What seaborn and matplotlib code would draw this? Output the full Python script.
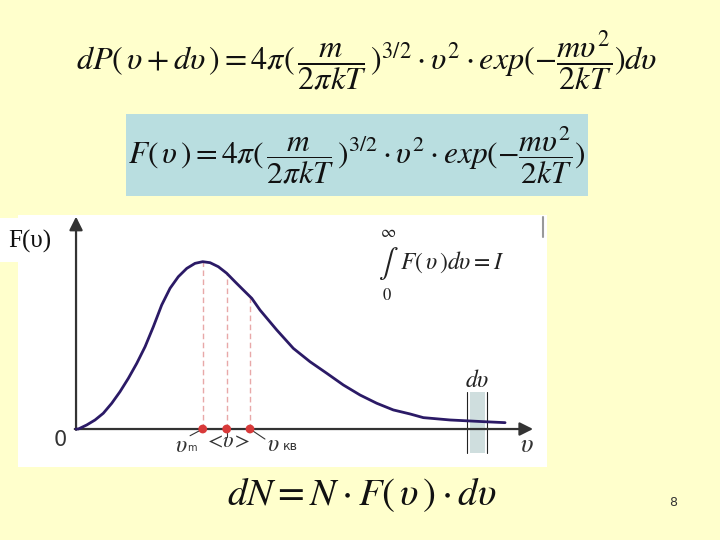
import matplotlib
matplotlib.use('Agg')
import matplotlib.pyplot as plt
import seaborn as sns
import pandas as pd
from matplotlib.patches import Rectangle

# ---- data (speed in units of v_m, density normalised to peak) ----
speed = [0.0, 0.018, 0.084, 0.150, 0.215, 0.282, 0.347, 0.413, 0.479, 0.545, 0.610,
         0.676, 0.742, 0.807, 0.874, 0.939, 1.000, 1.058, 1.123, 1.189, 1.255, 1.320,
         1.387, 1.452, 1.584, 1.715, 1.847, 1.979, 2.110, 2.242, 2.373, 2.504, 2.636,
         2.741, 2.952, 3.215, 3.386]
density = [0.0, 0.0, 0.024, 0.054, 0.094, 0.154, 0.223, 0.303, 0.392, 0.492, 0.611,
           0.741, 0.841, 0.910, 0.960, 0.990, 1.000, 0.994, 0.970, 0.931, 0.880, 0.831,
           0.781, 0.711, 0.592, 0.482, 0.402, 0.333, 0.263, 0.203, 0.154, 0.114, 0.090,
           0.068, 0.054, 0.044, 0.038]
marker_speed = [1.000, 1.189, 1.373]
marker_density = [1.000, 0.931, 0.790]
dv_band = [3.110, 3.228]

sns.set_style('white')
plt.rcParams['mathtext.fontset'] = 'stix'
plt.rcParams['font.family'] = ['DejaVu Sans']

W, H = 720, 540
BG = '#FFFFCC'
fig = plt.figure(figsize=(7.2, 5.4), dpi=100, facecolor=BG)


def fx(px):
    return px / W


def fy(py):
    return 1 - py / H


# blue formula box
fig.patches.append(Rectangle((fx(126), fy(196)), (588 - 126) / W, (196 - 114) / H,
                             transform=fig.transFigure, facecolor='#B9DEE0',
                             edgecolor='none', zorder=0))

# chart axes (white panel)
ax = fig.add_axes([fx(18), fy(467), (547 - 18) / W, (467 - 215) / H])
ax.set_facecolor('white')
ax.set_xlim(-0.458, 3.717)
ax.set_ylim(-0.227, 1.279)
for s in ax.spines.values():
    s.set_visible(False)
ax.set_xticks([])
ax.set_yticks([])

df = pd.DataFrame({'v': speed, 'F': density})

# dv band
ax.axvspan(dv_band[0], dv_band[1], ymin=(-0.146 + 0.227) / 1.506, ymax=(0.223 + 0.227) / 1.506,
           color='#CFDEDE', lw=0, zorder=1)
for xv in [3.087, 3.245]:
    ax.plot([xv, xv], [-0.146, 0.223], color='#222222', lw=0.8, zorder=2)

# dashed drop lines
for v, f in zip(marker_speed, marker_density):
    ax.plot([v, v], [0, f], color='#E8A8A8', lw=1.0, ls=(0, (4, 2.5)), zorder=2)

# axes with arrows
ax.annotate('', xy=(3.607, 0), xytext=(-0.01, 0),
            arrowprops=dict(arrowstyle='-|>', mutation_scale=20, lw=1.6,
                            color='#333333', shrinkA=0, shrinkB=0), zorder=3)
ax.annotate('', xy=(0, 1.269), xytext=(0, -0.005),
            arrowprops=dict(arrowstyle='-|>', mutation_scale=20, lw=1.6,
                            color='#333333', shrinkA=0, shrinkB=0), zorder=3)

# curve
sns.lineplot(data=df, x='v', y='F', ax=ax, color='#2B1A66', lw=2.0, zorder=4,
             sort=False, solid_joinstyle='round', solid_capstyle='round')
ax.set_xlabel('')
ax.set_ylabel('')

# marker dots
sns.scatterplot(x=marker_speed, y=[0, 0, 0], ax=ax, s=40, color='#D83A3A', zorder=5,
                edgecolor='none')
ax.set_xlabel('')
ax.set_ylabel('')

# leader lines
ax.plot([1.0, 0.900], [0, -0.040], color='#333333', lw=0.8, zorder=3)
ax.plot([1.189, 1.189], [0, -0.046], color='#333333', lw=0.8, zorder=3)
ax.plot([1.373, 1.491], [0, -0.060], color='#333333', lw=0.8, zorder=3)

# chart labels
ax.text(-0.126, -0.066, '0', fontsize=15, color='#333333', ha='center', va='center',
        family='DejaVu Sans')
ax.text(0.83, -0.095, r'$\upsilon$', fontsize=17, color='#333333', ha='center', va='center')
ax.text(0.915, -0.115, 'm', fontsize=7, color='#333333', ha='center', va='center')
ax.text(1.189, -0.075, r'$<\!\upsilon\!>$', fontsize=16, color='#333333', ha='center',
        va='center')
ax.text(1.555, -0.090, r'$\upsilon$', fontsize=17, color='#333333', ha='center', va='center')
ax.text(1.69, -0.105, 'кв', fontsize=9, color='#333333', ha='center', va='center')
ax.text(3.555, -0.095, r'$\upsilon$', fontsize=19, color='#333333', ha='center', va='center')
ax.text(3.167, 0.294, r'$d\upsilon$', fontsize=17, color='#222222', ha='center', va='center')

# integral
ax.text(2.461, 1.180, r'$\infty$', fontsize=12, color='#222222', ha='center', va='center')
ax.text(2.461, 0.990, r'$\int$', fontsize=21, color='#222222', ha='center', va='center')
ax.text(2.453, 0.800, r'$\mathit{0}$', fontsize=12, color='#222222', ha='center', va='center')
ax.text(2.555, 0.997, r'$F(\,\upsilon\,)d\upsilon = I$', fontsize=17, color='#222222',
        ha='left', va='center')
ax.plot([3.685, 3.685], [1.266, 1.146], color='#999999', lw=1.5, zorder=3)

# F(v) label with white backing
fig.patches.append(Rectangle((fx(0), fy(262)), 60 / W, 44 / H, transform=fig.transFigure,
                             facecolor='white', edgecolor='none', zorder=1))
fig.text(fx(30), fy(241), 'F(υ)', fontsize=18, family='Liberation Serif', color='#111111',
         ha='center', va='center', zorder=6)

# formulas
fig.text(fx(367), fy(60),
         r'$dP(\,\upsilon + d\upsilon\,) = 4\pi(\,\dfrac{m}{2\pi kT}\,)^{3/2}\cdot \upsilon^{2}\cdot exp(-\dfrac{m\upsilon^{2}}{2kT})d\upsilon$',
         fontsize=23.2, color='#111111', ha='center', va='center')
fig.text(fx(357), fy(155),
         r'$F(\,\upsilon\,) = 4\pi(\,\dfrac{m}{2\pi kT}\,)^{3/2}\cdot \upsilon^{2}\cdot exp(-\dfrac{m\upsilon^{2}}{2kT})$',
         fontsize=22.6, color='#111111', ha='center', va='center')
fig.text(fx(362), fy(495), r'$dN = N\cdot F(\,\upsilon\,)\cdot d\upsilon$', fontsize=27.9,
         color='#111111', ha='center', va='center')
fig.text(fx(673), fy(503), '8', fontsize=9, color='#333333', ha='center', va='center')

fig.savefig('out.png', dpi=100, facecolor=BG)
